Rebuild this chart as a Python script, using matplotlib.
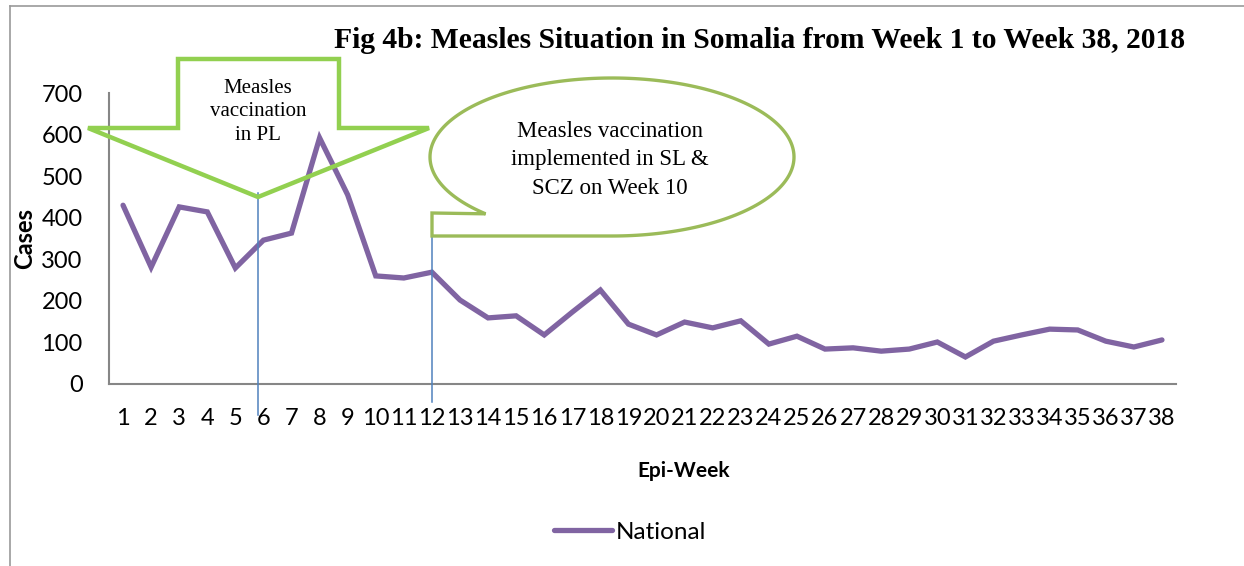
import numpy as np
import matplotlib
matplotlib.use("Agg")
import matplotlib.pyplot as plt
from matplotlib.patches import Polygon
from matplotlib.lines import Line2D

plt.rcParams["font.family"] = ["Lato", "DejaVu Sans"]

weeks = list(range(1, 39))
national = [430, 281, 426, 414, 279, 346, 363, 592, 455, 260,
            255, 269, 202, 159, 164, 118, 173, 226, 144, 118,
            149, 135, 152, 96, 115, 84, 87, 79, 84, 101,
            65, 103, 118, 132, 130, 103, 89, 106]
y_ticks = [0, 100, 200, 300, 400, 500, 600, 700]

W, H = 1244, 566
fig = plt.figure(figsize=(W / 100, H / 100), dpi=100)


def px(x, y):
    # pixel (top-left origin) -> figure fraction
    return (x / W, 1 - y / H)


ax = fig.add_axes([109 / W, 1 - 384 / H, (1176 - 109) / W, (384 - 93) / H])
ax.plot(weeks, national, color="#8064A2", lw=3.8, label="National",
        solid_capstyle="round", solid_joinstyle="miter", zorder=3)
ax.set_xlim(0.5, 38.5)
ax.set_ylim(0, 700)
ax.set_xticks(weeks)
ax.set_xticklabels([str(w) for w in weeks])
ax.set_yticks(y_ticks)
ax.tick_params(length=0, labelsize=17)
ax.tick_params(axis="y", pad=19)
ax.tick_params(axis="x", pad=17)
for s in ["top", "right"]:
    ax.spines[s].set_visible(False)
for s in ["left", "bottom"]:
    ax.spines[s].set_color("#868686")
    ax.spines[s].set_linewidth(1.5)
ax.set_xlabel("Epi-Week", fontsize=15, fontweight="bold")
ax.xaxis.set_label_coords(0.539, -0.265)
ax.set_ylabel("Cases", fontsize=17, fontweight="bold")
ax.yaxis.set_label_coords(-0.068, 0.5)

# vertical marker lines (weeks ~6 and 12)
ax.plot([5.82, 5.82], [459, -75], color="#4F81BD", lw=1.1, clip_on=False, zorder=4)
ax.plot([12, 12], [354, -43], color="#4F81BD", lw=1.1, clip_on=False, zorder=4)

ax.legend(loc="center", bbox_to_anchor=px(630, 532), bbox_transform=fig.transFigure,
          frameon=False, fontsize=17.5, handlelength=2.4, handletextpad=0.15)

# down-arrow shape for PL
arrow_pts = [px(178, 59), px(339, 59), px(339, 128), px(429, 128),
             px(258, 197), px(88, 128), px(178, 128)]
fig.patches.append(Polygon(arrow_pts, closed=True, fill=False, edgecolor="#92D050",
                           lw=3.2, joinstyle="miter", transform=fig.transFigure,
                           figure=fig, zorder=5))
fig.text(*px(258, 112), "Measles\nvaccination\nin PL", ha="center", va="center",
         family="Liberation Serif", fontsize=15, linespacing=1.35)

# speech callout for SL & SCZ
cx, cy, a, b = 612, 157, 182, 79
t = np.radians(np.linspace(134, 450, 200))
pts = [px(cx + a * np.cos(tt), cy + b * np.sin(tt)) for tt in t]
pts += [px(432, 236), px(432, 213)]
fig.patches.append(Polygon(pts, closed=True, fill=False, edgecolor="#9BBB59",
                           lw=2.4, joinstyle="miter", transform=fig.transFigure,
                           figure=fig, zorder=5))
fig.text(*px(610, 160), "Measles vaccination\nimplemented in SL &\nSCZ on Week 10",
         ha="center", va="center", family="Liberation Serif", fontsize=16.5,
         linespacing=1.45)

fig.text(*px(760, 41), "Fig 4b: Measles Situation in Somalia from Week 1 to Week 38, 2018",
         ha="center", va="center", family="Liberation Serif", fontweight="bold",
         fontsize=21.3)

# outer frame
fig.add_artist(Line2D([10 / W, 1], [1 - 6 / H, 1 - 6 / H], color="#9a9a9a", lw=1.2))
fig.add_artist(Line2D([10 / W, 10 / W], [0, 1 - 6 / H], color="#9a9a9a", lw=1.2))

fig.savefig("out.png", dpi=100, facecolor="white")
